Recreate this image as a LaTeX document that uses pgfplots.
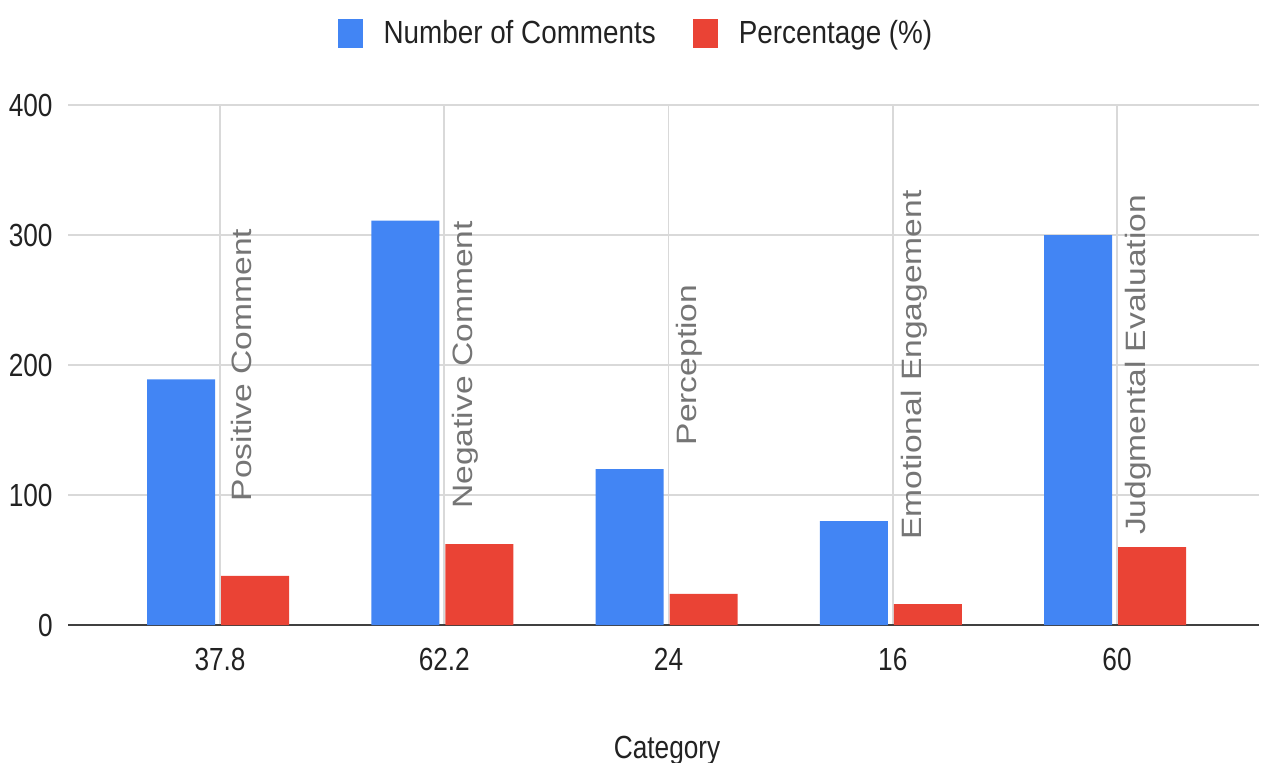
\documentclass[border=0pt]{standalone}
\usepackage{pgfplots}
\pgfplotsset{compat=1.18}
\usepackage{fontspec}
\setmainfont{Liberation Sans}[FakeStretch=0.82]
\newfontfamily\legfont{Liberation Sans}[FakeStretch=0.87]
\newfontfamily\rotfont{Liberation Sans}[FakeStretch=1.2]
\definecolor{gblue}{HTML}{4285F4}
\definecolor{gred}{HTML}{EA4335}
\definecolor{ggrid}{HTML}{D9D9D9}
\definecolor{gtext}{HTML}{222222}
\definecolor{glabel}{HTML}{757575}
\begin{document}
\begin{tikzpicture}
\path[use as bounding box] (-34pt,-68.5pt) rectangle (596.5pt,312.5pt);
\begin{axis}[
 at={(0,0)}, anchor=south west,
 scale only axis, width=595.5pt, height=260pt,
 xmin=-0.678, xmax=4.633, ymin=0, ymax=400,
 xtick={0,1,2,3,4}, xticklabels={37.8,62.2,24,16,60},
 ytick={100,200,300,400},
 extra y ticks={0},
 extra y tick style={major grid style={draw=black!75, line width=1pt}},
 xmajorgrids, ymajorgrids,
 major grid style={draw=ggrid, line width=0.9pt},
 axis line style={draw=none},
 major tick length=0pt,
 tick label style={font=\fontsize{16}{18}\selectfont, text=gtext},
 /pgf/number format/assume math mode=true,
 yticklabel style={anchor=east, inner sep=0pt, xshift=-7.5pt},
 xticklabel style={anchor=base, inner sep=0pt, yshift=-22.5pt},
 xlabel={Category},
 xlabel style={at={(axis description cs:0.503,-0.2558)}, anchor=base, font=\fontsize{16}{18}\selectfont, text=gtext, inner sep=0pt},
 legend style={at={(0.476,1.138)}, anchor=center, draw=none, fill=none,
   legend columns=2, font=\legfont\fontsize{16}{18}\selectfont, text=gtext,
   nodes={inner sep=0pt},
   /tikz/every odd column/.append style={column sep=10.5pt},
   /tikz/every even column/.append style={column sep=18.5pt}},
 legend image code/.code={\fill[#1, draw=none] (0pt,-7pt) rectangle (12.5pt,7.5pt);},
]
\addplot[ybar, bar width=34pt, bar shift=-19.5pt, fill=gblue, draw=none]
  coordinates {(0,189) (1,311) (2,120) (3,80) (4,300)};
\addlegendentry{Number of Comments}
\addplot[ybar, bar width=34pt, bar shift=17.5pt, fill=gred, draw=none]
  coordinates {(0,37.8) (1,62.2) (2,24) (3,16) (4,60)};
\addlegendentry{Percentage (\%)}
\addplot[draw=none, forget plot, nodes near coords, point meta=explicit symbolic,
  every node near coord/.append style={rotate=90, anchor=center, font=\rotfont\fontsize{14}{16}\selectfont, text=glabel, inner sep=0pt}]
  coordinates {(0.094,200) [Positive Comment] (1.094,200) [Negative Comment]
    (2.094,200) [Perception] (3.094,200) [Emotional Engagement]
    (4.094,200) [Judgmental Evaluation]};
\end{axis}
\end{tikzpicture}
\end{document}
